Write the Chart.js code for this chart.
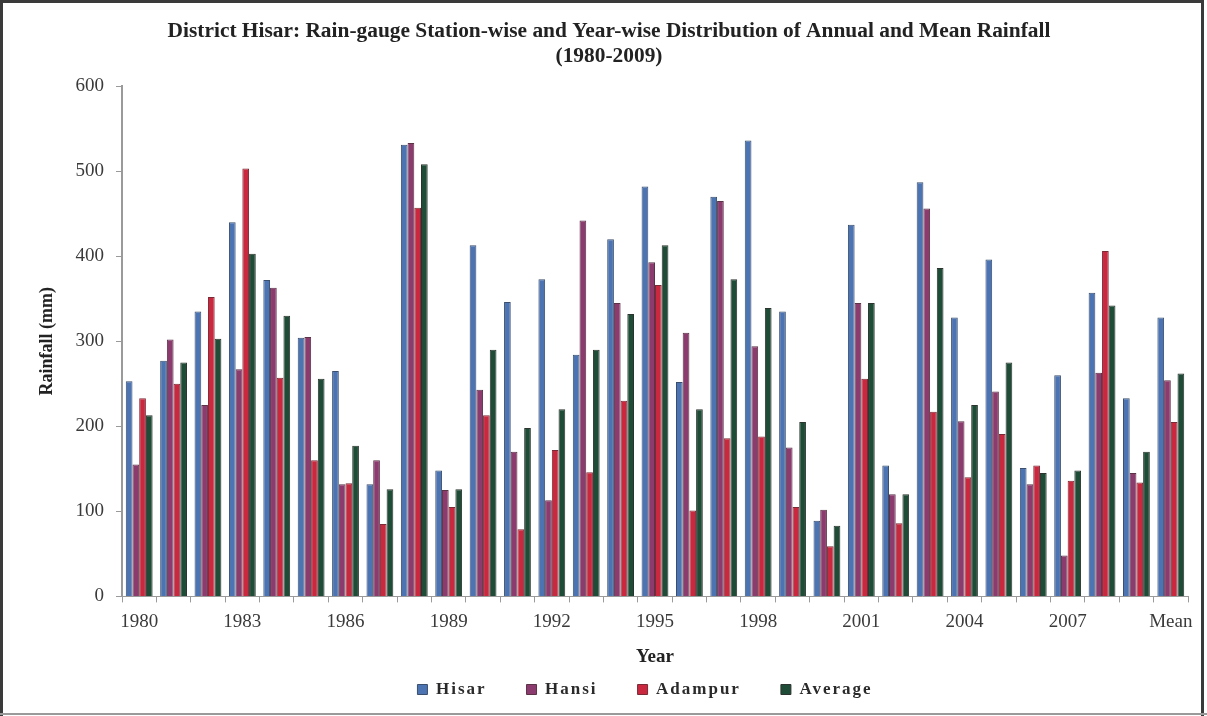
<!DOCTYPE html>
<html>
<head>
<meta charset="utf-8">
<title>District Hisar Rainfall</title>
<script src="https://cdn.jsdelivr.net/npm/chart.js@4/dist/chart.umd.min.js"></script>
<style>
  html, body { margin: 0; padding: 0; background: #ffffff; }
  #wrap { position: absolute; left: 0; top: 0; width: 1207px; height: 716px; }
</style>
</head>
<body>
<div id="wrap"><canvas id="c" width="1207" height="716"></canvas></div>
<script>
// Categories: years 1980-2009 plus the period mean
const years = [
  '1980','1981','1982','1983','1984','1985','1986','1987','1988','1989',
  '1990','1991','1992','1993','1994','1995','1996','1997','1998','1999',
  '2000','2001','2002','2003','2004','2005','2006','2007','2008','2009','Mean'
];

// Annual rainfall (mm) per rain-gauge station
const hisar = [
  253, 277, 335, 440, 372, 304, 265, 132, 531, 148,
  413, 346, 373, 284, 420, 482, 252, 470, 536, 335,
  89, 437, 154, 487, 328, 396, 151, 260, 357, 233, 328
];
const hansi = [
  155, 302, 225, 267, 363, 305, 132, 160, 533, 125,
  243, 170, 113, 442, 345, 393, 310, 465, 294, 175,
  102, 345, 120, 456, 206, 241, 132, 48, 263, 145, 254
];
const adampur = [
  233, 250, 352, 503, 257, 160, 133, 85, 457, 105,
  213, 79, 172, 146, 230, 366, 101, 186, 188, 105,
  59, 256, 86, 217, 140, 191, 154, 136, 406, 134, 205
];
const average = [
  213, 275, 303, 403, 330, 256, 177, 126, 508, 126,
  290, 198, 220, 290, 332, 413, 220, 373, 339, 205,
  83, 345, 120, 386, 225, 275, 145, 148, 342, 170, 262
];

const yTicks = [0, 100, 200, 300, 400, 500, 600];

const serif = "'Liberation Serif', 'Times New Roman', serif";

// Legend row geometry: compact box height, row offset, spaced-out lettering
const LEGEND_BOX_H = 30;
const LEGEND_ROW_TOP = 13;
const LEGEND_SHIFT_X = 36;
const LEGEND_LETTER_SPACING = '2px';

// Outer frame around the figure
const framePlugin = {
  id: 'frame',
  beforeDraw(chart) {
    const ctx = chart.ctx;
    ctx.save();
    ctx.fillStyle = '#ffffff';
    ctx.fillRect(0, 0, chart.width, chart.height);
    ctx.strokeStyle = '#3a3a3a';
    ctx.lineWidth = 3;
    ctx.beginPath();
    ctx.moveTo(1.5, chart.height);
    ctx.lineTo(1.5, 1.5);
    ctx.lineTo(chart.width - 4.5, 1.5);
    ctx.lineTo(chart.width - 4.5, chart.height);
    ctx.stroke();
    ctx.strokeStyle = '#9a9a9a';
    ctx.lineWidth = 2;
    ctx.beginPath();
    ctx.moveTo(0, chart.height - 2);
    ctx.lineTo(chart.width, chart.height - 2);
    ctx.stroke();
    ctx.restore();
  }
};

// Keeps the legend row compact while its items stay widely spaced
const legendRowPlugin = {
  id: 'legendRow',
  beforeLayout(chart) {
    const lg = chart.legend;
    if (!lg || lg._rowPatched) return;
    const origFit = lg.fit;
    const origDraw = lg.draw;
    lg.fit = function () {
      const ctx = this.ctx;
      ctx.save();
      ctx.letterSpacing = LEGEND_LETTER_SPACING;
      origFit.call(this);
      ctx.restore();
      if (this.isHorizontal()) this.height = LEGEND_BOX_H;
    };
    lg.draw = function () {
      const ctx = this.ctx;
      const pad = this.options.labels.padding;
      const top = this.top, bottom = this.bottom;
      this.top = top + LEGEND_ROW_TOP - pad;
      this.bottom = this.top + pad * 2 + 40;
      ctx.save();
      ctx.translate(LEGEND_SHIFT_X, 0);
      ctx.letterSpacing = LEGEND_LETTER_SPACING;
      origDraw.apply(this, arguments);
      ctx.restore();
      this.top = top;
      this.bottom = bottom;
    };
    lg._rowPatched = true;
  }
};

function series(label, data, fill, edge) {
  return {
    label: label,
    data: data,
    backgroundColor: fill,
    borderColor: edge,
    borderWidth: 1,
    barPercentage: 1.0,
    categoryPercentage: 0.78
  };
}

new Chart(document.getElementById('c'), {
  type: 'bar',
  data: {
    labels: years,
    datasets: [
      series('Hisar', hisar, '#4d74b2', '#3a4f6e'),
      series('Hansi', hansi, '#8c3b6e', '#5a3346'),
      series('Adampur', adampur, '#c9283f', '#7a2a35'),
      series('Average', average, '#1f4c36', '#2b342f')
    ]
  },
  options: {
    responsive: false,
    animation: false,
    devicePixelRatio: 1,
    layout: { padding: { left: 30, right: 19, top: 0, bottom: 18 } },
    plugins: {
      title: {
        display: true,
        text: [
          'District Hisar: Rain-gauge Station-wise and Year-wise Distribution of Annual and Mean Rainfall',
          '(1980-2009)'
        ],
        color: '#222222',
        font: { family: serif, size: 21.4, weight: 'bold', lineHeight: 1.17 },
        padding: { top: 19, bottom: 17 }
      },
      legend: {
        display: true,
        position: 'bottom',
        labels: {
          color: '#2a2a2a',
          font: { family: serif, size: 17, weight: 'bold' },
          boxWidth: 10,
          boxHeight: 10,
          padding: 40
        }
      },
      tooltip: { enabled: false }
    },
    scales: {
      x: {
        offset: true,
        grid: {
          display: true,
          offset: true,
          drawOnChartArea: false,
          drawTicks: true,
          tickLength: 6,
          color: '#9a9a9a'
        },
        border: { display: true, color: '#9a9a9a', width: 1 },
        ticks: {
          autoSkip: false,
          maxRotation: 0,
          color: '#3a3a3a',
          font: { family: serif, size: 19, lineHeight: 1.2 },
          padding: 8,
          callback: function (value, index) {
            return index % 3 === 0 ? years[index] : '';
          }
        },
        title: {
          display: true,
          text: 'Year',
          color: '#222222',
          font: { family: serif, size: 19, weight: 'bold', lineHeight: 1.2 },
          padding: { top: 4, bottom: 0 }
        }
      },
      y: {
        min: 0,
        max: 600,
        afterBuildTicks: function (axis) {
          axis.ticks = yTicks.map(v => ({ value: v }));
        },
        afterFit: function (axis) { axis.width = 92; },
        grid: {
          display: true,
          drawOnChartArea: false,
          drawTicks: true,
          tickLength: 6,
          color: '#9a9a9a'
        },
        border: { display: true, color: '#9a9a9a', width: 2 },
        ticks: {
          color: '#3a3a3a',
          font: { family: serif, size: 19 },
          padding: 12
        },
        title: {
          display: true,
          text: 'Rainfall (mm)',
          color: '#222222',
          font: { family: serif, size: 18, weight: 'bold' },
          padding: { top: 7, bottom: 0 }
        }
      }
    }
  },
  plugins: [framePlugin, legendRowPlugin]
});
</script>
</body>
</html>
